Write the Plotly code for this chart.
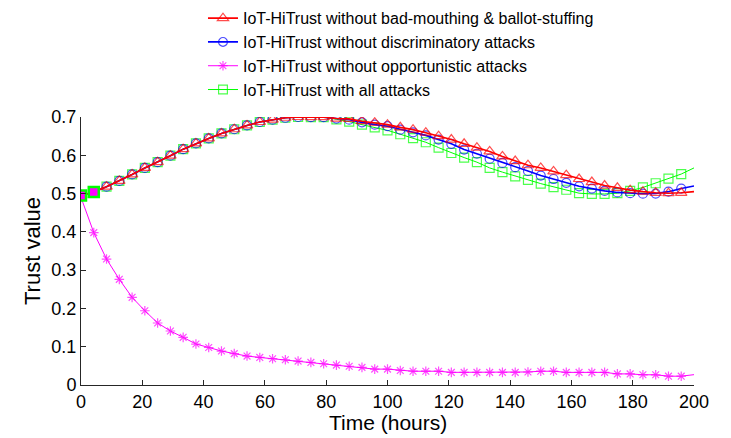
import plotly.graph_objects as go

time_h = [0, 4.17, 8.33, 12.5, 16.67, 20.83, 25, 29.17, 33.33, 37.5, 41.67, 45.83,
          50, 54.17, 58.33, 62.5, 66.67, 70.83, 75, 79.17, 83.33, 87.5, 91.67, 95.83,
          100, 104.17, 108.33, 112.5, 116.67, 120.83, 125, 129.17, 133.33, 137.5,
          141.67, 145.83, 150, 154.17, 158.33, 162.5, 166.67, 170.83, 175, 179.17,
          183.33, 187.5, 191.67, 195.83, 200]

common_rise = [0.495, 0.504, 0.518, 0.533, 0.550, 0.567, 0.582, 0.599, 0.616, 0.631,
               0.644, 0.657, 0.668, 0.678, 0.687, 0.693, 0.698, 0.700, 0.6995, 0.6995]

no_badmouth = common_rise + [
    0.696, 0.695, 0.689, 0.685, 0.680, 0.673, 0.667, 0.659, 0.650, 0.641,
    0.630, 0.620, 0.610, 0.597, 0.585, 0.574, 0.567, 0.558, 0.548, 0.538,
    0.530, 0.521, 0.515, 0.509, 0.505, 0.502, 0.501, 0.502, 0.505]

no_discrim = common_rise + [
    0.696, 0.693, 0.686, 0.680, 0.676, 0.667, 0.660, 0.652, 0.641, 0.630,
    0.615, 0.604, 0.591, 0.580, 0.569, 0.559, 0.547, 0.538, 0.528, 0.519,
    0.513, 0.507, 0.503, 0.501, 0.4997, 0.500, 0.505, 0.513, 0.520]

no_opportun = [0.490, 0.398, 0.329, 0.276, 0.229, 0.194, 0.162, 0.141, 0.1245, 0.107,
               0.098, 0.0887, 0.082, 0.0756, 0.072, 0.0687, 0.066, 0.0625, 0.059, 0.0555,
               0.052, 0.049, 0.046, 0.0415, 0.0415, 0.038, 0.036, 0.036, 0.036, 0.033,
               0.033, 0.033, 0.033, 0.033, 0.033, 0.034, 0.036, 0.036, 0.033, 0.033,
               0.033, 0.033, 0.029, 0.029, 0.0267, 0.0267, 0.023, 0.023, 0.027]

all_attacks = common_rise + [
    0.694, 0.688, 0.680, 0.673, 0.665, 0.655, 0.645, 0.634, 0.620, 0.606,
    0.594, 0.582, 0.567, 0.556, 0.545, 0.536, 0.526, 0.517, 0.510, 0.501,
    0.499, 0.499, 0.501, 0.507, 0.516, 0.527, 0.539, 0.551, 0.567]

x_ticks = [0, 20, 40, 60, 80, 100, 120, 140, 160, 180, 200]
y_ticks = [0, 0.1, 0.2, 0.3, 0.4, 0.5, 0.6, 0.7]
y_tick_text = ["0", "0.1", "0.2", "0.3", "0.4", "0.5", "0.6", "0.7"]

# (name, values, colour, symbol, marker size, line width, legend rank)
series = [
    ("IoT-HiTrust with all attacks", all_attacks, "#00FF00", "square-open", 9, 1.0, 4),
    ("IoT-HiTrust without opportunistic attacks", no_opportun, "#FF00FF", "asterisk-open", 8, 1.0, 3),
    ("IoT-HiTrust without discriminatory attacks", no_discrim, "#0000FF", "circle-open", 9, 1.6, 2),
    ("IoT-HiTrust without bad-mouthing & ballot-stuffing", no_badmouth, "#FF0000", "triangle-up-open", 10, 1.6, 1),
]

fig = go.Figure()
n = len(time_h)
for name, vals, col, sym, ms, lw, rank in series:
    sizes = [ms] * (n - 1) + [0]
    fig.add_trace(go.Scatter(
        x=time_h, y=vals, name=name, mode="lines+markers", legendrank=rank,
        line=dict(color=col, width=lw),
        marker=dict(symbol=sym, size=sizes, color=col, line=dict(color=col, width=1.2)),
    ))

# overlay of the first two start markers (filled)
fig.add_trace(go.Scatter(
    x=time_h[:2], y=all_attacks[:2], mode="markers", showlegend=False,
    marker=dict(symbol="square", size=10, color="#FF00FF", line=dict(color="#00FF00", width=2.5)),
))

font_family = "Arial, Liberation Sans, sans-serif"
axis_col = "#262626"
fig.update_layout(
    width=723, height=430,
    margin=dict(l=73, r=37, t=109, b=53, autoexpand=False),
    paper_bgcolor="white", plot_bgcolor="white",
    font=dict(family=font_family, color="black"),
    showlegend=True,
    legend=dict(
        x=0.199, xref="paper", y=1.432, yref="paper", xanchor="left", yanchor="top",
        font=dict(size=16, family=font_family),
        bgcolor="rgba(255,255,255,0)",
    ),
    xaxis=dict(
        range=[0, 200], tickvals=x_ticks, automargin=False,
        ticks="inside", ticklen=5, tickcolor=axis_col, showline=True, linecolor=axis_col,
        linewidth=1, showgrid=False, zeroline=False, tickfont=dict(size=18),
    ),
    yaxis=dict(
        range=[0, 0.7], tickvals=y_ticks, ticktext=y_tick_text, automargin=False,
        ticks="inside", ticklen=5, tickcolor=axis_col, showline=True, linecolor=axis_col,
        linewidth=1, showgrid=False, zeroline=False, tickfont=dict(size=18),
        title=dict(text="Trust value", font=dict(size=22), standoff=4),
    ),
    annotations=[dict(
        text="Time (hours)", x=0.5, xref="paper", y=0, yref="paper",
        xanchor="center", yanchor="middle", yshift=-37, showarrow=False,
        font=dict(size=21, family=font_family, color="black"),
    )],
)

fig.write_html("out.html")
